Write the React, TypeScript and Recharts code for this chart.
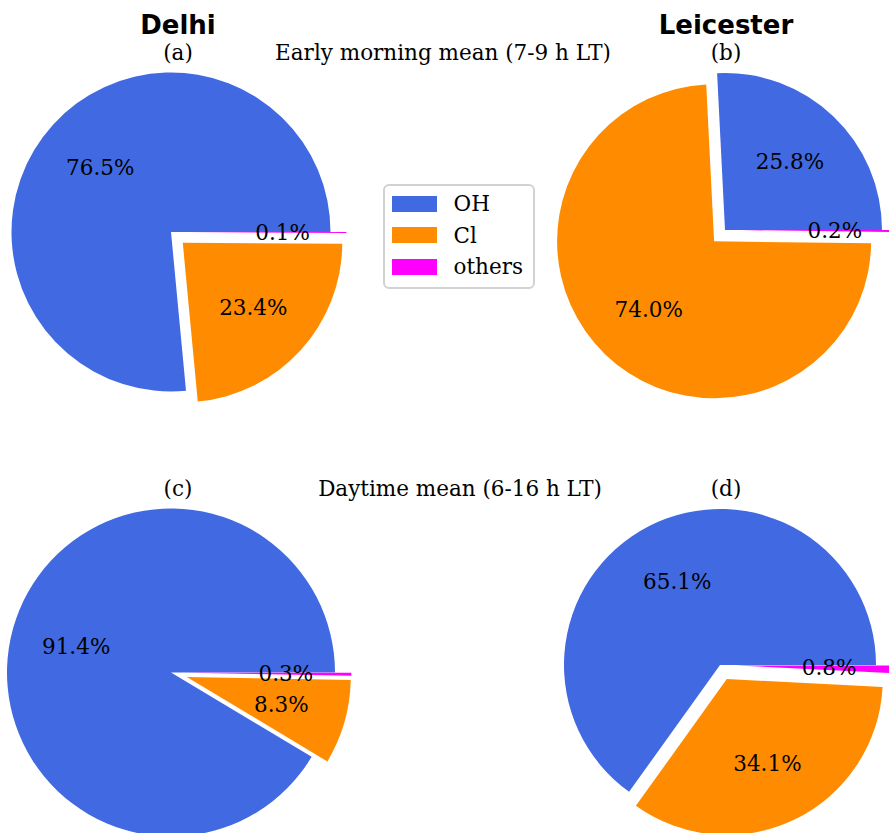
import { PieChart, Pie, Cell, Legend } from 'recharts'

const categories = ['OH', 'Cl', 'others']
const colors = ['#4169E1', '#FF8C00', '#FF00FF']
const explode = [0, 0.1, 0.1]

const delhiMorning = [76.5, 23.4, 0.1]
const leicesterMorning = [25.8, 74.0, 0.2]
const delhiDay = [91.4, 8.3, 0.3]
const leicesterDay = [65.1, 34.1, 0.8]

const panels = [
  { values: delhiMorning, cx: 171, cy: 232, r: 159.5 },
  { values: leicesterMorning, cx: 725, cy: 230, r: 157 },
  { values: delhiDay, cx: 171, cy: 672.5, r: 164 },
  { values: leicesterDay, cx: 720, cy: 665, r: 156 },
]

const SERIF = '"DejaVu Serif", serif'
const FS = 21.5
const RAD = Math.PI / 180

// explode offset along the wedge's mid angle (matplotlib style)
function explodeOffset(values: number[], k: number, dist: number) {
  const total = values.reduce((a, b) => a + b, 0)
  const before = values.slice(0, k).reduce((a, b) => a + b, 0)
  const mid = ((before + values[k] / 2) / total) * 360 * RAD
  return [dist * Math.cos(mid), -dist * Math.sin(mid)]
}

const makeLabel = (k: number, r: number, values: number[]) => (props: any) => {
  if (props.index !== k) return <g />
  const x = props.cx + 0.6 * r * Math.cos(-props.midAngle * RAD)
  const y = props.cy + 0.6 * r * Math.sin(-props.midAngle * RAD)
  return (
    <text x={x} y={y} textAnchor="middle" dominantBaseline="central" fontFamily={SERIF} fontSize={FS} fill="#000">
      {values[k].toFixed(1)}%
    </text>
  )
}

const renderLegend = () => (
  <div style={{ boxSizing: 'border-box', width: 152, height: 105, border: '2.5px solid #d2d2d2', borderRadius: 6, background: '#fff', padding: '2px 0 0 7px' }}>
    {categories.map((c, i) => (
      <div key={c} style={{ display: 'flex', alignItems: 'center', height: 31.5 }}>
        <span style={{ display: 'inline-block', width: 44.5, height: 16, background: colors[i] }} />
        <span style={{ marginLeft: 17, fontFamily: SERIF, fontSize: FS, lineHeight: 1 }}>{c}</span>
      </div>
    ))}
  </div>
)

const Title = ({ x, y, children, bold }: { x: number; y: number; children: any; bold?: boolean }) => (
  <div style={{
    position: 'absolute', left: x, top: y, transform: 'translate(-50%, -50%)', whiteSpace: 'nowrap', lineHeight: 1,
    fontFamily: bold ? '"DejaVu Sans", sans-serif' : SERIF, fontWeight: bold ? 'bold' : 'normal', fontSize: bold ? 26 : FS,
  }}>{children}</div>
)

export default function App() {
  const pies: any[] = []
  panels.forEach((p, pi) => {
    const data = categories.map((name, i) => ({ name, value: p.values[i] }))
    categories.forEach((_, k) => {
      const [dx, dy] = explodeOffset(p.values, k, explode[k] * p.r)
      pies.push(
        <Pie
          key={`${pi}-${k}`}
          data={data}
          dataKey="value"
          nameKey="name"
          cx={p.cx + dx}
          cy={p.cy + dy}
          outerRadius={p.r}
          startAngle={0}
          endAngle={360}
          stroke="none"
          legendType="none"
          labelLine={false}
          label={makeLabel(k, p.r, p.values)}
          isAnimationActive={false}
        >
          {data.map((d, i) => (
            <Cell key={d.name} fill={i === k ? colors[i] : 'none'} stroke="none" />
          ))}
        </Pie>
      )
    })
  })

  return (
    <div style={{ position: 'absolute', left: 0, top: 0, width: 889, height: 833, background: '#fff', overflow: 'hidden' }}>
      <PieChart width={889} height={833} margin={{ top: 0, right: 0, bottom: 0, left: 0 }}>
        {pies}
        <Legend
          layout="vertical"
          align="center"
          verticalAlign="middle"
          content={renderLegend}
          wrapperStyle={{ left: 383, top: 184, width: 152, height: 105 }}
        />
      </PieChart>
      <Title x={178} y={25} bold>Delhi</Title>
      <Title x={726} y={25} bold>Leicester</Title>
      <Title x={178} y={53}>(a)</Title>
      <Title x={726} y={53}>(b)</Title>
      <Title x={443} y={53}>Early morning mean (7-9 h LT)</Title>
      <Title x={178} y={489}>(c)</Title>
      <Title x={726} y={489}>(d)</Title>
      <Title x={460} y={489}>Daytime mean (6-16 h LT)</Title>
    </div>
  )
}
